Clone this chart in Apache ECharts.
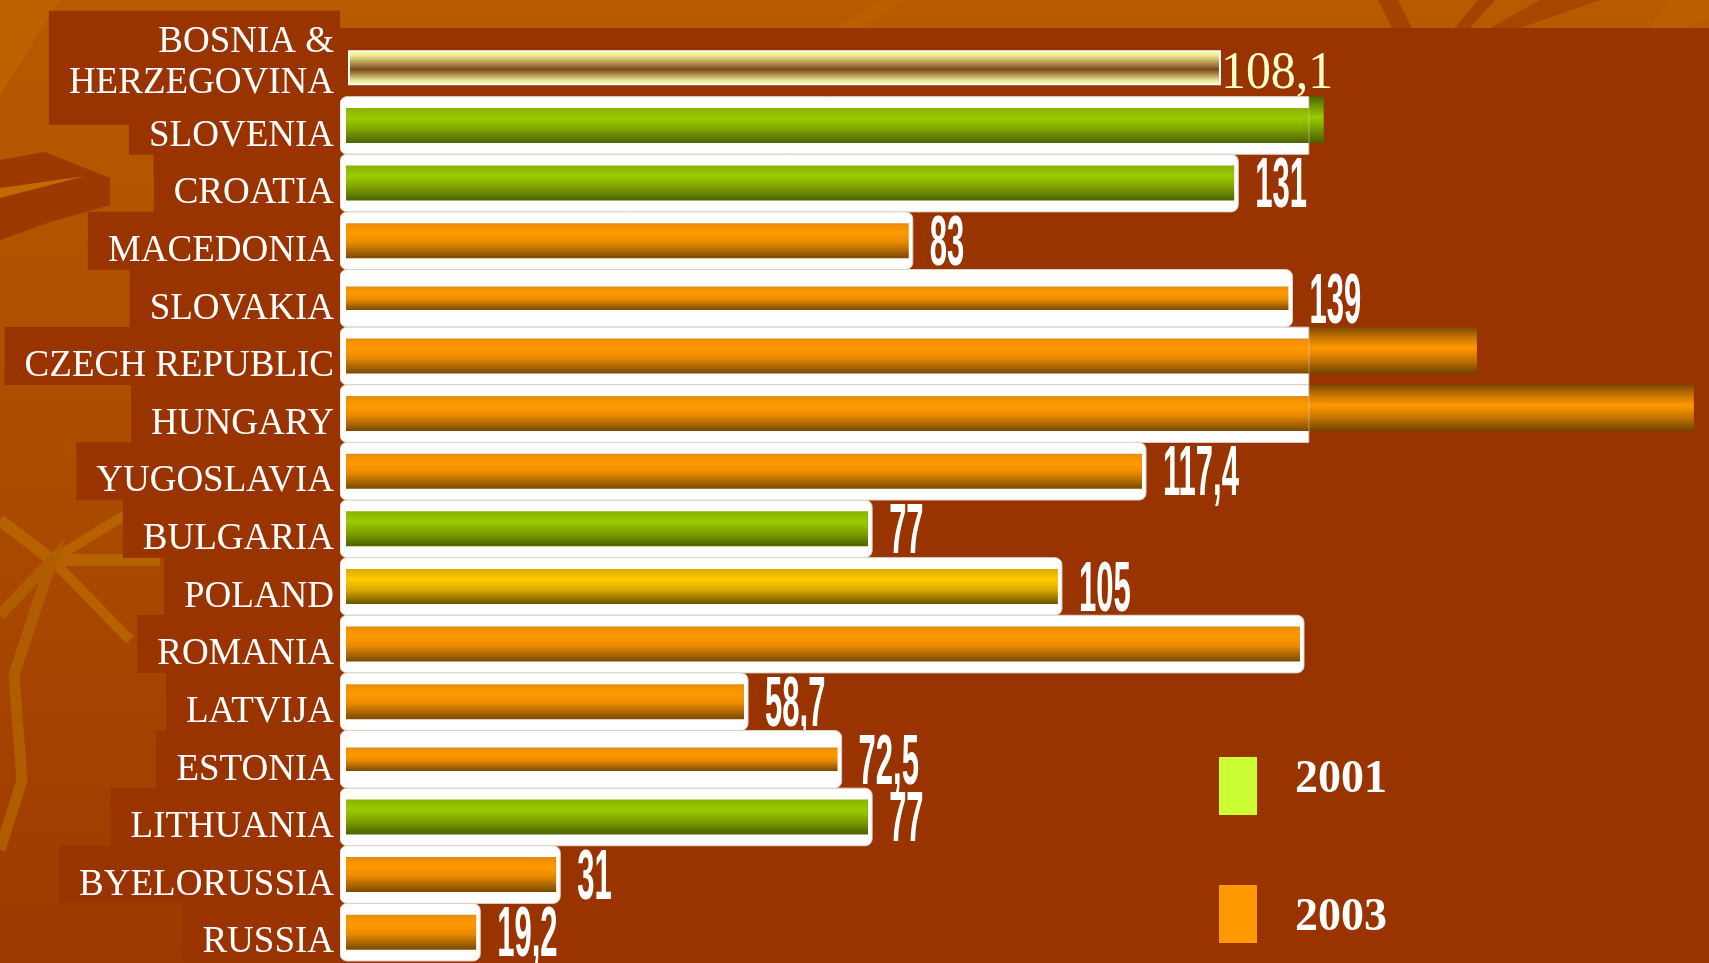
<!DOCTYPE html>
<html>
<head>
<meta charset="utf-8">
<script src="https://cdn.jsdelivr.net/npm/echarts@6/dist/echarts.min.js"></script>
<style>
  html, body { margin: 0; padding: 0; background: #b35400; }
  #chart { width: 1709px; height: 963px; }
</style>
</head>
<body>
<div id="chart"></div>
<script>
// categories, top to bottom
const countries = ['BOSNIA &\nHERZEGOVINA', 'SLOVENIA', 'CROATIA', 'MACEDONIA', 'SLOVAKIA',
  'CZECH REPUBLIC', 'HUNGARY', 'YUGOSLAVIA', 'BULGARIA', 'POLAND', 'ROMANIA',
  'LATVIJA', 'ESTONIA', 'LITHUANIA', 'BYELORUSSIA', 'RUSSIA'];
// bar lengths as drawn in the picture
const barValues = [128.9, 144.2, 131, 83, 139, 166.8, 198.8, 117.4, 77, 105, 140.7, 58.7, 72.5, 77, 31, 19.2];
// printed value labels (some bars carry none)
const valueLabels = ['108,1', '', '131', '83', '139', '', '', '117,4', '77', '105', '', '58,7', '72,5', '77', '31', '19,2'];
// year of each bar ('' = no year in the legend)
const barYears = ['', '2001', '2001', '2003', '2003', '2003', '2003', '2003', '2001', '', '2003', '2003', '2003', '2001', '2003', '2003'];
const legendYears = ['2001', '2003'];

// ---- styles ----
const thinRows = ['SLOVAKIA', 'ESTONIA'];
const specialKind = { 'BOSNIA &\nHERZEGOVINA': 'pale', 'POLAND': 'yellow' };
const FRAME_CAP = 142;   // white frames stop here
const legendColor = { '2001': '#ccff33', '2003': '#ff9900' };
const SERIF = '"Liberation Serif", "Times New Roman", serif';

function vgrad(stops) {
  return new echarts.graphic.LinearGradient(0, 0, 0, 1,
    stops.map(function (s) { return { offset: s[0], color: s[1] }; }));
}
const palettes = {
  orange: {
    inner: [[0, '#d98a2a'], [0.06, '#f09000'], [0.3, '#ff9900'], [0.55, '#e98a00'], [1, '#7a4a00']],
    outer: [[0, '#7a4800'], [0.2, '#c07000'], [0.45, '#ff9900'], [0.7, '#c87500'], [1, '#6e4400']]
  },
  green: {
    inner: [[0, '#8cb000'], [0.3, '#99cc00'], [0.6, '#80a400'], [1, '#4b6300']],
    outer: [[0, '#4a6a00'], [0.45, '#99cc00'], [1, '#4a6000']]
  },
  yellow: {
    inner: [[0, '#d9a900'], [0.3, '#ffcc00'], [0.6, '#d9aa00'], [1, '#6b5500']],
    outer: [[0, '#6b5500'], [0.45, '#ffcc00'], [1, '#6b5500']]
  },
  pale: {
    inner: [[0, '#ffffa0'], [0.15, '#f0e890'], [0.55, '#7a4a18'], [0.85, '#e8e090'], [1, '#ffffa8']]
  }
};

function kindOf(i) {
  if (specialKind[countries[i]]) return specialKind[countries[i]];
  return barYears[i] === '2001' ? 'green' : 'orange';
}

function renderItem(params, api) {
  const idx = api.value(1);
  const val = api.value(0);
  const kind = kindOf(idx);
  const base = api.coord([0, idx]);
  const x0 = base[0], cy = base[1];
  const xEnd = api.coord([val, idx])[0];
  const band = api.size([0, 1])[1];
  const label = valueLabels[idx];
  const children = [];

  if (kind === 'pale') {
    children.push({
      type: 'rect',
      shape: { x: x0 + 3, y: cy - 16.5, width: xEnd - x0 - 3, height: 33 },
      style: { fill: vgrad(palettes.pale.inner), stroke: '#ffffff', lineWidth: 2 }
    });
    children.push({
      type: 'text', x: xEnd + 1, y: cy + 7, scaleX: 0.96,
      style: { text: label, font: '52px ' + SERIF,
        fill: '#ffffcc', verticalAlign: 'middle', align: 'left' }
    });
    return { type: 'group', children: children };
  }

  const pal = palettes[kind];
  const thin = thinRows.indexOf(countries[idx]) >= 0;
  const half = band / 2;
  const barHalf = thin ? 11.75 : 17.5;
  const capped = val + 0.6 > FRAME_CAP;
  const fx = api.coord([Math.min(val + 0.6, FRAME_CAP), idx])[0];

  if (capped) {
    children.push({
      type: 'rect',
      shape: { x: fx - 1, y: cy - half, width: xEnd - fx + 1, height: half + barHalf },
      style: { fill: vgrad(pal.outer) }
    });
  }
  children.push({
    type: 'rect',
    shape: { x: x0 - 6, y: cy - half, width: fx - x0 + 6, height: band, r: capped ? [7, 0, 0, 7] : 7 },
    style: { fill: '#ffffff', stroke: '#dcd2c6', lineWidth: 1 }
  });
  children.push({
    type: 'rect',
    shape: { x: x0, y: cy - barHalf, width: (capped ? fx : xEnd) - x0, height: barHalf * 2 },
    style: { fill: vgrad(pal.inner) }
  });
  if (label) {
    children.push({
      type: 'text', x: fx + 17, y: cy + 5, scaleY: 2.25,
      style: { text: label, font: 'bold 31px "Liberation Sans", Arial, sans-serif',
        fill: '#ffffff', verticalAlign: 'middle', align: 'left' }
    });
  }
  return { type: 'group', children: children };
}

function groupData(test) {
  const out = [];
  barValues.forEach(function (v, i) { if (test(i)) out.push([v, i]); });
  return out;
}

const chart = echarts.init(document.getElementById('chart'), null, { renderer: 'canvas' });

const option = {
  animation: false,
  graphic: {
    elements: [
      { type: 'rect', z: 0, shape: { x: 0, y: 0, width: 1709, height: 963 },
        style: { fill: vgrad([[0, '#b85a00'], [0.55, '#aa4a00'], [1, '#9c3a00']]) } },
      // light rays of the slide background
      { type: 'polygon', z: 0, shape: { points: [[0, 0], [60, 0], [0, 95]] }, style: { fill: '#bd6200' } },
      { type: 'polygon', z: 0, shape: { points: [[0, 160], [45, 152], [110, 178], [110, 205], [50, 222], [0, 240]] }, style: { fill: '#9c3800' } },
      { type: 'polygon', z: 0, shape: { points: [[0, 188], [85, 176], [0, 198]] }, style: { fill: '#c06a00' } },
      { type: 'polyline', z: 0, shape: { points: [[0, 520], [52, 560], [160, 560]] }, style: { stroke: '#b66200', lineWidth: 12 } },
      { type: 'polyline', z: 0, shape: { points: [[52, 560], [125, 515]] }, style: { stroke: '#b66200', lineWidth: 10 } },
      { type: 'polyline', z: 0, shape: { points: [[52, 560], [130, 640]] }, style: { stroke: '#b66200', lineWidth: 10 } },
      { type: 'polyline', z: 0, shape: { points: [[0, 615], [52, 560], [14, 675], [22, 780], [0, 850]] }, style: { stroke: '#b05c00', lineWidth: 11 } },
      { type: 'polygon', z: 0, shape: { points: [[835, 28], [880, 0], [905, 0], [860, 28]] }, style: { fill: '#bb6000' } },
      { type: 'polygon', z: 0, shape: { points: [[1378, 0], [1398, 0], [1412, 28], [1392, 28]] }, style: { fill: '#a44200' } },
      { type: 'polygon', z: 0, shape: { points: [[1478, 0], [1495, 0], [1470, 28], [1455, 28]] }, style: { fill: '#a44200' } },
      { type: 'polygon', z: 0, shape: { points: [[1540, 0], [1600, 0], [1520, 28], [1490, 28]] }, style: { fill: '#a84600' } },
      { type: 'polygon', z: 0, shape: { points: [[1670, 0], [1709, 0], [1709, 20], [1680, 28], [1650, 28]] }, style: { fill: '#bb6000' } },
      // dark panel behind the bars
      { type: 'rect', z: 0, shape: { x: 340, y: 28, width: 1369, height: 935 }, style: { fill: '#993300' } }
    ]
  },
  grid: { left: 346, right: 7, top: 39, bottom: 2, containLabel: false },
  xAxis: { type: 'value', min: 0, max: 200, show: false },
  yAxis: {
    type: 'category',
    data: countries,
    inverse: true,
    z: 5,
    axisLine: { show: false },
    axisTick: { show: false },
    axisLabel: {
      interval: 0,
      hideOverlap: false,
      margin: 6,
      align: 'right',
      backgroundColor: '#993300',
      padding: [0, 6, 0, 20],
      formatter: function (v) {
        if (v.indexOf('\n') >= 0) {
          const parts = v.split('\n');
          return '{b|' + parts[0] + '}\n{c|' + parts[1] + '}';
        }
        return '{a|' + v + '}';
      },
      rich: {
        a: { color: '#ffffff', fontFamily: SERIF, fontSize: 37, lineHeight: 58, verticalAlign: 'bottom' },
        b: { color: '#ffffff', fontFamily: SERIF, fontSize: 37, lineHeight: 50, verticalAlign: 'bottom' },
        c: { color: '#ffffff', fontFamily: SERIF, fontSize: 37, lineHeight: 64, verticalAlign: 'top', padding: [4, 0, 0, 0] }
      }
    }
  },
  legend: {
    orient: 'vertical',
    left: 1219,
    top: 757,
    padding: 0,
    itemWidth: 38,
    itemHeight: 58,
    itemGap: 70,
    icon: 'rect',
    selectedMode: false,
    formatter: function (name) {
      return name === legendYears[0] ? '{y|' + name + '}' : '{z|' + name + '}';
    },
    textStyle: {
      color: '#ffffff',
      padding: [0, 0, 0, 33],
      rich: {
        y: { color: '#ffffff', fontFamily: SERIF, fontWeight: 'bold', fontSize: 46, lineHeight: 58, verticalAlign: 'top' },
        z: { color: '#ffffff', fontFamily: SERIF, fontWeight: 'bold', fontSize: 46, lineHeight: 58, verticalAlign: 'top', padding: [10, 0, 0, 0] }
      }
    },
    data: legendYears.map(function (y) { return { name: y, itemStyle: { color: legendColor[y] } }; })
  },
  series: [
    { name: 'other', type: 'custom', z: 3, renderItem: renderItem, encode: { x: 0, y: 1 },
      data: groupData(function (i) { return barYears[i] === ''; }) },
    { name: '2001', type: 'custom', z: 3, renderItem: renderItem, encode: { x: 0, y: 1 },
      data: groupData(function (i) { return barYears[i] === '2001'; }) },
    { name: '2003', type: 'custom', z: 3, renderItem: renderItem, encode: { x: 0, y: 1 },
      data: groupData(function (i) { return barYears[i] === '2003'; }) }
  ]
};

chart.setOption(option);
</script>
</body>
</html>
